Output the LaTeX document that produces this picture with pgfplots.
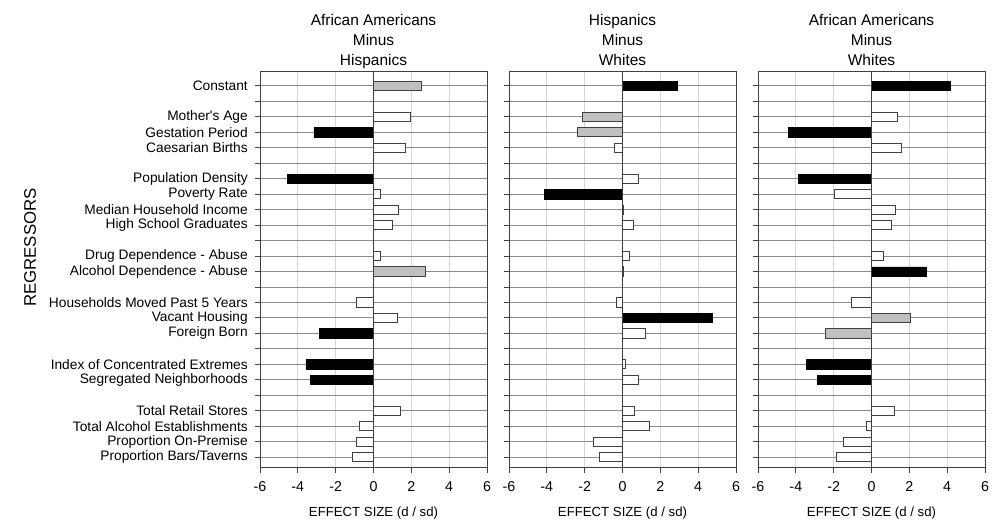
\documentclass[border=0pt]{standalone}
\usepackage{pgfplots}
\pgfplotsset{compat=1.18}
\usepackage{fontspec}
\setmainfont{Liberation Sans}
\definecolor{bargray}{HTML}{C0C0C0}
\definecolor{edge}{HTML}{404040}
\definecolor{hgrid}{HTML}{8C8C8C}
\definecolor{vgrid}{HTML}{D4D4D4}
\pgfplotsset{
  panel/.style={
    scale only axis, width=170.25pt, height=297pt,
    anchor=south west, clip mode=individual,
    xmin=-6, xmax=6, ymin=0.1, ymax=25.7, y dir=reverse,
    xtick={-6,-4,...,6}, ytick={1,...,25},
    yticklabels={},
    tick align=outside, major tick length=3.75pt,
    xtick pos=bottom, ytick pos=left,
    xmajorgrids, ymajorgrids,
    major x grid style={vgrid, line width=0.75pt},
    major y grid style={hgrid, line width=0.75pt},
    axis line style={edge, line width=0.75pt},
    tick style={edge, line width=0.75pt},
    xbar, bar width=0.6,
    /pgf/number format/assume math mode=true,
    xticklabel style={font=\fontsize{10.7}{12}\selectfont, inner sep=0pt, yshift=-6.5pt},
    yticklabel style={font=\fontsize{10.3}{12}\selectfont, inner sep=0pt, anchor=east, xshift=-5.25pt},
  },
  blk/.style={fill=black, draw=black, line width=0.5pt, bar shift=0pt},
  gry/.style={fill=bargray, draw=edge, line width=0.75pt, bar shift=0pt},
  wht/.style={fill=white, draw=edge, line width=0.75pt, bar shift=0pt},
}
\tikzset{
  ttl/.style={anchor=base, font=\fontsize{11.6}{14}\selectfont, inner sep=0pt},
  xl/.style={anchor=base, font=\fontsize{9.9}{12}\selectfont, inner sep=0pt},
}
\begin{document}
\begin{tikzpicture}
\path[use as bounding box] (0,0) rectangle (752.25pt,392.25pt);
\node[rotate=90, font=\fontsize{12.6}{14}\selectfont] at (22.5pt,206.6pt) {REGRESSORS};
% Panel 1
\begin{axis}[panel, at={(195pt,41.25pt)},
  yticklabels={Constant,,Mother\textquotesingle s Age,Gestation Period,Caesarian Births,,Population Density,Poverty Rate,Median Household Income,High School Graduates,,Drug Dependence - Abuse,Alcohol Dependence - Abuse,,Households Moved Past 5 Years,Vacant Housing,Foreign Born,,Index of Concentrated Extremes,Segregated Neighborhoods,,Total Retail Stores,Total Alcohol Establishments,Proportion On-Premise,Proportion Bars/Taverns}]
\addplot[blk] coordinates {(-3.15,4) (-4.56,7) (-2.87,17) (-3.57,19) (-3.35,20)};
\addplot[gry] coordinates {(2.55,1) (2.73,13)};
\addplot[wht] coordinates {(1.95,3) (1.69,5) (0.35,8) (1.34,9) (0.99,10) (0.37,12) (-0.90,15) (1.25,16) (1.43,22) (-0.76,23) (-0.92,24) (-1.09,25)};
\draw[edge, line width=0.75pt] (axis cs:0,0.1) -- (axis cs:0,25.7);
\node[ttl] at (axis description cs:0.5,1) [yshift=34.9pt] {African Americans};
\node[ttl] at (axis description cs:0.5,1) [yshift=19.9pt] {Minus};
\node[ttl] at (axis description cs:0.5,1) [yshift=4.9pt] {Hispanics};
\node[xl] at (axis description cs:0.5,0) [yshift=-36.4pt] {EFFECT SIZE (d / sd)};
\end{axis}
% Panel 2
\begin{axis}[panel, at={(381.75pt,41.25pt)}]
\addplot[blk] coordinates {(2.92,1) (-4.14,8) (4.77,16)};
\addplot[gry] coordinates {(-2.10,3) (-2.36,4)};
\addplot[wht] coordinates {(-0.40,5) (0.85,7) (0.03,9) (0.58,10) (0.35,12) (0.07,13) (-0.30,15) (1.23,17) (0.18,19) (0.85,20) (0.63,22) (1.44,23) (-1.51,24) (-1.21,25)};
\draw[edge, line width=0.75pt] (axis cs:0,0.1) -- (axis cs:0,25.7);
\node[ttl] at (axis description cs:0.5,1) [yshift=34.9pt] {Hispanics};
\node[ttl] at (axis description cs:0.5,1) [yshift=19.9pt] {Minus};
\node[ttl] at (axis description cs:0.5,1) [yshift=4.9pt] {Whites};
\node[xl] at (axis description cs:0.5,0) [yshift=-36.4pt] {EFFECT SIZE (d / sd)};
\end{axis}
% Panel 3
\begin{axis}[panel, at={(568.5pt,41.25pt)}]
\addplot[blk] coordinates {(4.19,1) (-4.40,4) (-3.87,7) (2.90,13) (-3.43,19) (-2.85,20)};
\addplot[gry] coordinates {(2.08,16) (-2.45,17)};
\addplot[wht] coordinates {(1.36,3) (1.57,5) (-1.97,8) (1.29,9) (1.07,10) (0.65,12) (-1.07,15) (1.20,22) (-0.25,23) (-1.50,24) (-1.83,25)};
\draw[edge, line width=0.75pt] (axis cs:0,0.1) -- (axis cs:0,25.7);
\node[ttl] at (axis description cs:0.5,1) [yshift=34.9pt] {African Americans};
\node[ttl] at (axis description cs:0.5,1) [yshift=19.9pt] {Minus};
\node[ttl] at (axis description cs:0.5,1) [yshift=4.9pt] {Whites};
\node[xl] at (axis description cs:0.5,0) [yshift=-36.4pt] {EFFECT SIZE (d / sd)};
\end{axis}
\end{tikzpicture}
\end{document}
